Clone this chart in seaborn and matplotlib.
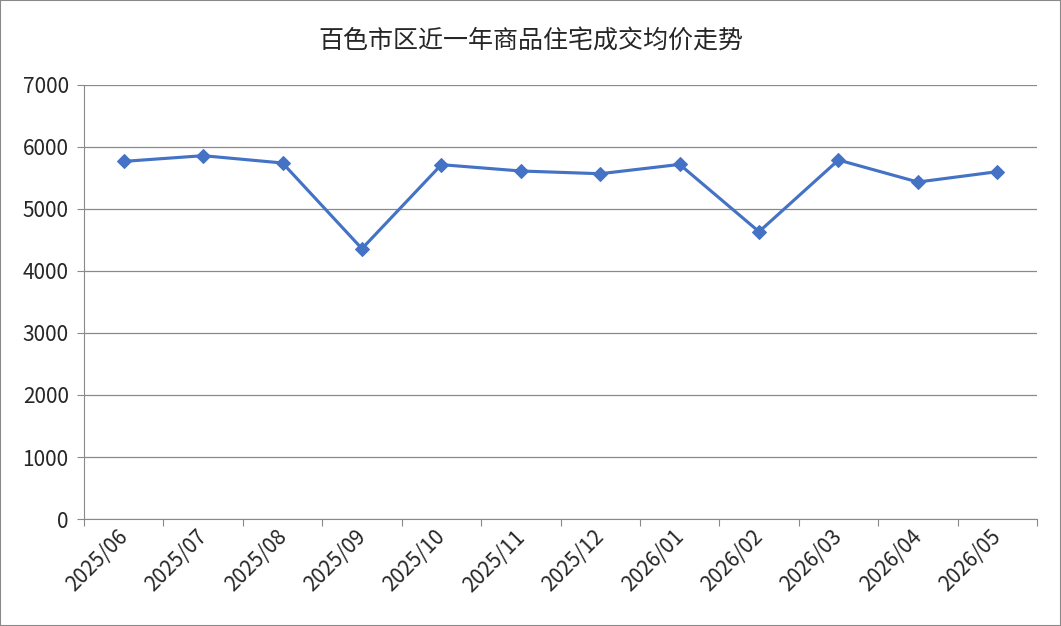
import pandas as pd
import seaborn as sns
import matplotlib.pyplot as plt
import matplotlib.transforms as mtransforms
import numpy as np

months = ['2025/06', '2025/07', '2025/08', '2025/09', '2025/10', '2025/11',
          '2025/12', '2026/01', '2026/02', '2026/03', '2026/04', '2026/05']
prices = [5768, 5860, 5742, 4360, 5715, 5613, 5569, 5719, 4634, 5790, 5435, 5602]

df = pd.DataFrame({'x': np.arange(len(months)), 'price': prices})

sns.set_style('white')
plt.rcParams['font.family'] = ['Noto Sans CJK SC', 'DejaVu Sans']

fig = plt.figure(figsize=(10.61, 6.26), dpi=100)
ax = fig.add_axes([84 / 1061, 1 - 519 / 626, (1037 - 84) / 1061, (519 - 85) / 626])

sns.lineplot(data=df, x='x', y='price', ax=ax, color='#4472C4', linewidth=2.25,
             marker='D', markersize=7, markeredgecolor='#4472C4')

ax.set_xlim(-0.5, len(months) - 0.5)
ax.set_ylim(0, 7000)
ax.set_yticks(range(0, 7001, 1000))
ax.grid(axis='y', color='#898989', linewidth=0.9)
ax.set_axisbelow(True)

# 刻度线在类别边界，标签在类别中心
ax.set_xticks(np.arange(-0.5, len(months), 1))
ax.set_xticklabels([])
ax.set_xticks(np.arange(len(months)), minor=True)
ax.set_xticklabels(months, minor=True, rotation=45, ha='right', va='top',
                   rotation_mode='anchor', fontsize=15)
ax.tick_params(axis='x', which='major', length=5, color='#898989', direction='out', bottom=True)
ax.tick_params(axis='x', which='minor', length=0, pad=5)
ax.tick_params(axis='y', length=5, color='#898989', direction='out', left=True, labelsize=15, pad=6)

shift = mtransforms.ScaledTranslation(-7 / 100, 0, fig.dpi_scale_trans)
for lab in ax.get_xticklabels(minor=True):
    lab.set_transform(lab.get_transform() + shift)

for side in ['top', 'right']:
    ax.spines[side].set_visible(False)
ax.spines['left'].set_color('#898989')
ax.spines['bottom'].set_color('#898989')

ax.set_xlabel('')
ax.set_ylabel('')
fig.text(0.5, 1 - 42 / 626, '百色市区近一年商品住宅成交均价走势', ha='center', va='center', fontsize=18)

fig.patches.append(plt.Rectangle((0, 0), 1, 1, transform=fig.transFigure, fill=False,
                                 edgecolor='#898989', linewidth=1.5))

fig.savefig('out.png', dpi=100)
